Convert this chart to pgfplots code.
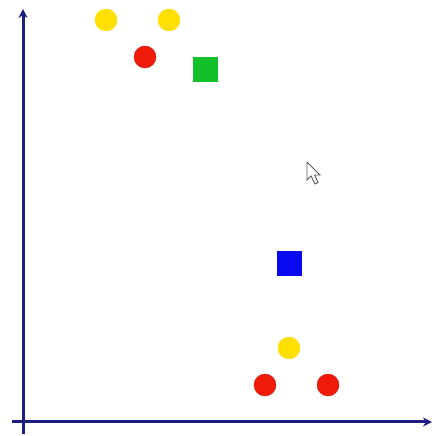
\documentclass[border=0pt]{standalone}
\usepackage{pgfplots}
\pgfplotsset{compat=1.18}
\usetikzlibrary{arrows.meta}
\definecolor{axisnavy}{HTML}{1E1E80}
\definecolor{dotyellow}{HTML}{FFE000}
\definecolor{dotred}{HTML}{F01A0A}
\definecolor{sqgreen}{HTML}{12C02A}
\definecolor{sqblue}{HTML}{0A0AF0}
\begin{document}
\begin{tikzpicture}
\begin{axis}[
  scale only axis, width=434pt, height=436pt,
  xmin=-23, xmax=411, ymin=-14, ymax=422,
  hide axis, clip=false,
]
% keep the full canvas in the bounding box
\path (axis cs:-23,-14) rectangle (axis cs:411,422);
% axes with arrow heads
\addplot[axisnavy, line width=3pt, -{Stealth[length=9pt,width=9pt]}] coordinates {(-11,0) (409,0)};
\addplot[axisnavy, line width=3pt, -{Stealth[length=9pt,width=9pt]}] coordinates {(0,-12) (0,413)};
% yellow circles
\addplot[only marks, mark=*, mark size=11pt, draw=dotyellow, fill=dotyellow]
  coordinates {(83,402) (146,402) (266,74)};
% red circles
\addplot[only marks, mark=*, mark size=11pt, draw=dotred!85!black, fill=dotred]
  coordinates {(122,365) (242,37) (305,37)};
% green square
\addplot[only marks, mark=square*, mark size=12pt, draw=sqgreen, fill=sqgreen]
  coordinates {(182,353)};
% blue square
\addplot[only marks, mark=square*, mark size=12pt, draw=sqblue, fill=sqblue]
  coordinates {(266,159)};
% mouse pointer
\addplot[gray!70!black, line width=0.9pt, fill=white] coordinates {
  (284,260) (284,242) (288,246) (292,238) (295,239.5) (291.5,247) (297,247) (284,260)};
\end{axis}
\end{tikzpicture}
\end{document}
